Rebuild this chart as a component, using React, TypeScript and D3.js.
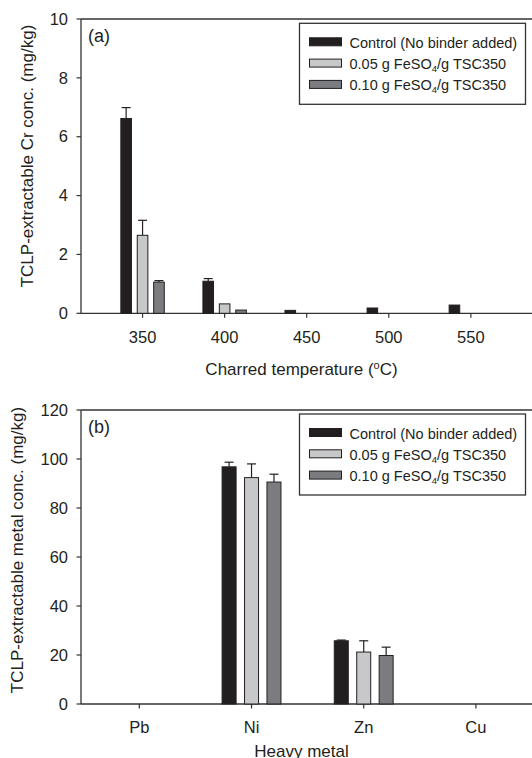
import React from 'react';
import * as d3 from 'd3';

// panel (a): Cr by charred temperature
const temps = [350, 400, 450, 500, 550];
const crControl = [6.62, 1.09, 0.1, 0.18, 0.28];
const crControlErr = [0.37, 0.09, 0, 0, 0];
const crFe005 = [2.65, 0.32, 0, 0, 0];
const crFe005Err = [0.51, 0, 0, 0, 0];
const crFe010 = [1.06, 0.11, 0, 0, 0];
const crFe010Err = [0.05, 0, 0, 0, 0];
const crTicks = [0, 2, 4, 6, 8, 10];

// panel (b): heavy metals
const metals = ['Pb', 'Ni', 'Zn', 'Cu'];
const metalControl = [0, 96.8, 25.8, 0];
const metalControlErr = [0, 1.9, 0.3, 0];
const metalFe005 = [0, 92.4, 21.2, 0];
const metalFe005Err = [0, 5.6, 4.6, 0];
const metalFe010 = [0, 90.6, 19.8, 0];
const metalFe010Err = [0, 3.2, 3.4, 0];
const metalTicks = [0, 20, 40, 60, 80, 100, 120];

const seriesNames = ['Control (No binder added)', '0.05 g FeSO|4|/g TSC350', '0.10 g FeSO|4|/g TSC350'];
const fills = ['#231f20', '#c7c8ca', '#7b7c7f'];

const ink = '#231f20';
const font = '"Liberation Sans", Arial, sans-serif';

const Legend = ({ x, y }) => (
  <g transform={`translate(${x},${y})`}>
    <rect x={0} y={0} width={226} height={81} fill="#fff" stroke="#333" strokeWidth={1.3} />
    {seriesNames.map((name, i) => {
      const parts = name.split('|');
      return (
        <g key={name} transform={`translate(0,${14.5 + i * 21.3})`}>
          <rect x={10} y={0} width={32} height={8} fill={fills[i]} stroke={ink} strokeWidth={1} />
          <text x={50} y={10} fontSize={14.5} fill={ink}>
            {parts.length === 1 ? name : (
              <>
                <tspan>{parts[0]}</tspan>
                <tspan dy={3} fontSize={9.5}>{parts[1]}</tspan>
                <tspan dy={-3}>{parts[2]}</tspan>
              </>
            )}
          </text>
        </g>
      );
    })}
  </g>
);

const Bars = ({ xs, values, errs, width, fill, y }) => (
  <g>
    {values.map((v, i) => {
      if (v <= 0) return null;
      const cx = xs[i];
      const e = errs[i];
      return (
        <g key={i}>
          {e > 0 && (
            <g stroke={ink} strokeWidth={1.2}>
              <line x1={cx} x2={cx} y1={y(v)} y2={y(v + e)} />
              <line x1={cx - 4.5} x2={cx + 4.5} y1={y(v + e)} y2={y(v + e)} />
            </g>
          )}
          <rect x={cx - width / 2} y={y(v)} width={width} height={y(0) - y(v)}
            fill={fill} stroke={ink} strokeWidth={1} />
        </g>
      );
    })}
  </g>
);

export default function App() {
  const W = 532;
  const H = 758;
  const left = 81;

  // ---- panel (a)
  const xa = d3.scaleLinear().domain([312.5, 600]).range([left, left + 287.5 * 1.6415]);
  const ya = d3.scaleLinear().domain([0, 10]).range([313.3, 19]);
  const bwA = 10.6;
  const offA = 10;

  // ---- panel (b)
  const xb = d3.scaleLinear().domain([0.48, 4.5]).range([left, W]);
  const yb = d3.scaleLinear().domain([0, 120]).range([704, 410]);
  const bwB = 14;
  const offB = 0.2;

  const axisColor = '#333';

  return (
    <svg width={W} height={H} style={{ position: 'absolute', left: 0, top: 0, background: '#fff' }}
      fontFamily={font}>
      {/* ===== panel (a) ===== */}
      <g>
        <line x1={left} x2={W} y1={ya(10)} y2={ya(10)} stroke={axisColor} strokeWidth={1.3} />
        <line x1={left} x2={W} y1={ya(0)} y2={ya(0)} stroke={axisColor} strokeWidth={1.3} />
        <line x1={left} x2={left} y1={ya(0)} y2={ya(10)} stroke={axisColor} strokeWidth={1.3} />
        {crTicks.map(t => (
          <g key={t}>
            <line x1={left - 4.5} x2={left} y1={ya(t)} y2={ya(t)} stroke={axisColor} strokeWidth={1.2} />
            <text x={left - 13} y={ya(t)} dy="0.35em" textAnchor="end" fontSize={16.5} fill={ink}>{t}</text>
          </g>
        ))}
        {temps.map(t => (
          <g key={t}>
            <line x1={xa(t)} x2={xa(t)} y1={ya(0)} y2={ya(0) + 4.5} stroke={axisColor} strokeWidth={1.2} />
            <text x={xa(t)} y={ya(0) + 29.4} textAnchor="middle" fontSize={16.5} fill={ink}>{t}</text>
          </g>
        ))}
        <Bars xs={temps.map(t => xa(t - offA))} values={crControl} errs={crControlErr} width={bwA} fill={fills[0]} y={ya} />
        <Bars xs={temps.map(t => xa(t))} values={crFe005} errs={crFe005Err} width={bwA} fill={fills[1]} y={ya} />
        <Bars xs={temps.map(t => xa(t + offA))} values={crFe010} errs={crFe010Err} width={bwA} fill={fills[2]} y={ya} />
        <text x={88} y={42} fontSize={18} fill={ink}>(a)</text>
        <Legend x={299.5} y={23.3} />
        <text x={(left + 522) / 2} y={375} textAnchor="middle" fontSize={17} fill={ink}>
          Charred temperature (<tspan dy={-6} fontSize={11}>o</tspan><tspan dy={6}>C)</tspan>
        </text>
        <text transform={`translate(32.5,156) rotate(-90)`} textAnchor="middle" fontSize={17} fill={ink}>
          TCLP-extractable Cr conc. (mg/kg)
        </text>
      </g>

      {/* ===== panel (b) ===== */}
      <g>
        <line x1={left} x2={W} y1={yb(120)} y2={yb(120)} stroke={axisColor} strokeWidth={1.3} />
        <line x1={left} x2={W} y1={yb(0)} y2={yb(0)} stroke={axisColor} strokeWidth={1.3} />
        <line x1={left} x2={left} y1={yb(0)} y2={yb(120)} stroke={axisColor} strokeWidth={1.3} />
        {metalTicks.map(t => (
          <g key={t}>
            <line x1={left - 4.5} x2={left} y1={yb(t)} y2={yb(t)} stroke={axisColor} strokeWidth={1.2} />
            <text x={left - 13} y={yb(t)} dy="0.35em" textAnchor="end" fontSize={16.5} fill={ink}>{t}</text>
          </g>
        ))}
        {metals.map((m, i) => (
          <g key={m}>
            <line x1={xb(i + 1)} x2={xb(i + 1)} y1={yb(0)} y2={yb(0) + 4.5} stroke={axisColor} strokeWidth={1.2} />
            <text x={xb(i + 1)} y={yb(0) + 28.7} textAnchor="middle" fontSize={16.5} fill={ink}>{m}</text>
          </g>
        ))}
        <Bars xs={metals.map((_, i) => xb(i + 1 - offB))} values={metalControl} errs={metalControlErr} width={bwB} fill={fills[0]} y={yb} />
        <Bars xs={metals.map((_, i) => xb(i + 1))} values={metalFe005} errs={metalFe005Err} width={bwB} fill={fills[1]} y={yb} />
        <Bars xs={metals.map((_, i) => xb(i + 1 + offB))} values={metalFe010} errs={metalFe010Err} width={bwB} fill={fills[2]} y={yb} />
        <text x={88} y={433} fontSize={18} fill={ink}>(b)</text>
        <Legend x={299.5} y={414} />
        <text x={(left + 522) / 2} y={757} textAnchor="middle" fontSize={17} fill={ink}>Heavy metal</text>
        <text transform={`translate(23,550) rotate(-90)`} textAnchor="middle" fontSize={17} fill={ink}>
          TCLP-extractable metal conc. (mg/kg)
        </text>
      </g>
    </svg>
  );
}
